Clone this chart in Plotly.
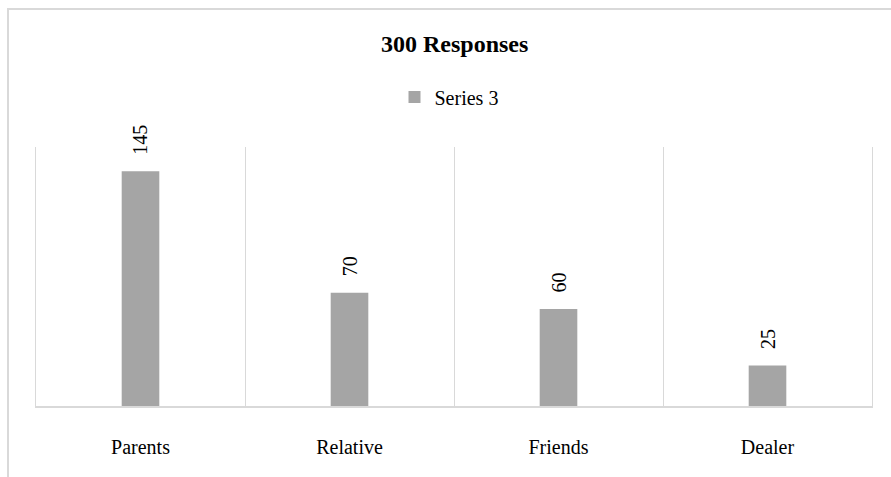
import plotly.graph_objects as go

# Survey data
categories = ["Parents", "Relative", "Friends", "Dealer"]
responses = [145, 70, 60, 25]
series_name = "Series 3"
chart_title = "300 Responses"

W, H = 891, 477
# plot area in pixels
PL, PR, PT, PB = 36, 872, 147, 406
plot_w, plot_h = PR - PL, PB - PT

serif = "Liberation Serif"
bar_color = "#A5A5A5"
line_color = "#D9D9D9"

fig = go.Figure()
fig.add_trace(go.Bar(
    x=categories,
    y=responses,
    name=series_name,
    marker=dict(color=bar_color, line=dict(width=0)),
    width=0.18,
    showlegend=True,
))

# rotated value labels above each bar
for c, v in zip(categories, responses):
    fig.add_annotation(
        x=c, y=v, xref="x", yref="y",
        text=str(v), showarrow=False, textangle=-90,
        xanchor="center", yanchor="bottom", yshift=14,
        font=dict(family=serif, size=20, color="#000000"),
    )


def px_x(p):
    return (p - PL) / plot_w


def px_y(p):
    return (PB - p) / plot_h


# title
fig.add_annotation(
    x=0.5, y=px_y(44), xref="paper", yref="paper",
    text="<b>" + chart_title + "</b>", showarrow=False,
    xanchor="center", yanchor="middle",
    font=dict(family=serif, size=24, color="#000000"),
)

# outer chart border (runs off the right and bottom edges)
fig.add_shape(
    type="rect", xref="paper", yref="paper",
    x0=px_x(8), x1=px_x(W + 10), y0=px_y(H + 10), y1=px_y(9),
    line=dict(color=line_color, width=2), fillcolor="rgba(0,0,0,0)",
    layer="below",
)

fig.update_layout(
    width=W, height=H,
    margin=dict(l=PL, r=W - PR, t=PT, b=H - PB, pad=0),
    paper_bgcolor="white",
    plot_bgcolor="white",
    showlegend=True,
    legend=dict(
        orientation="h", x=px_x(449), xanchor="center",
        y=px_y(97), yanchor="middle",
        font=dict(family=serif, size=20, color="#000000"),
        bgcolor="rgba(0,0,0,0)",
    ),
    xaxis=dict(
        type="category",
        range=[-0.5, len(categories) - 0.5],
        tickson="boundaries",
        showgrid=True, gridcolor=line_color, gridwidth=1,
        showline=True, linecolor=line_color, linewidth=1.5,
        ticks="", ticklabelstandoff=22,
        tickfont=dict(family=serif, size=20, color="#000000"),
        zeroline=False,
    ),
    yaxis=dict(
        range=[0, 160], showgrid=False, zeroline=False,
        showticklabels=False, ticks="",
        showline=True, mirror=True, linecolor=line_color, linewidth=1,
    ),
    font=dict(family=serif),
)

fig.write_html("out.html")
